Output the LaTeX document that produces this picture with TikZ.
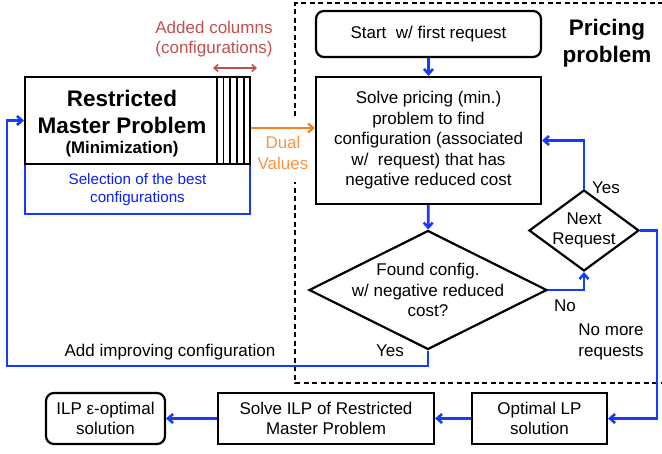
\documentclass[tikz,border=0pt]{standalone}
\usepackage{fontspec}
\setmainfont{Liberation Sans}
\usetikzlibrary{arrows.meta,shapes.geometric}
\definecolor{flowblue}{RGB}{20,60,255}
\definecolor{txtblue}{RGB}{10,30,255}
\definecolor{dualorange}{RGB}{247,150,70}
\definecolor{arrorange}{RGB}{245,130,32}
\definecolor{colred}{RGB}{192,80,77}
\tikzset{
  box/.style={draw=black, line width=2.2pt, fill=white, inner sep=0pt, align=center,
    font=\fontsize{17}{20.5}\selectfont},
  rbox/.style={box, rounded corners=8pt},
  dia/.style={draw=black, line width=2.2pt, shape=diamond, inner sep=0pt, fill=white},
  txt/.style={inner sep=0pt, align=center, font=\fontsize{17}{20.5}\selectfont},
  flow/.style={draw=flowblue, line width=2.6pt, -{Straight Barb[length=5pt,width=9pt]}},
}
\begin{document}
\begin{tikzpicture}[x=1pt,y=-1pt]
\useasboundingbox (0,0) rectangle (662,453);
% dashed pricing region
\draw[line width=1.4pt, dash pattern=on 5pt off 3.5pt] (663,3) -- (295,3) -- (295,383) -- (663,383);
\node[txt, font=\bfseries\fontsize{22.5}{27}\selectfont] (ptitle) at (607,43.5) {Pricing\\problem};
% RMP
\node[draw=flowblue, line width=2.4pt, minimum width=225pt, minimum height=50pt, inner sep=0pt] (sel) at (137.5,189) {};
\node[txt, text=txtblue, font=\fontsize{15.2}{18.5}\selectfont] (seltxt) at (137.5,189.5) {Selection of the best\\configurations};
\node[draw=black, line width=2.2pt, fill=white, minimum width=225pt, minimum height=87pt, inner sep=0pt] (rmp) at (137.5,120.5) {};
\foreach \xx in {217,223.5,230.3,237,243.7}{
  \draw[line width=1.8pt] (\xx,77) -- (\xx,164);
}
\node[txt, font=\bfseries\fontsize{22.5}{27}\selectfont] (rmptxt) at (122,111.5) {Restricted\\Master Problem};
\node[txt, font=\bfseries\fontsize{16.8}{20}\selectfont] (mintxt) at (122,149) {(Minimization)};
% added columns
\node[txt, text=colred] (addcol) at (214,39) {Added columns\\(configurations)};
\coordinate (ac1) at (213,68);
\coordinate (ac2) at (257,68);
\draw[colred, line width=1.6pt, {Straight Barb[length=4pt,width=7pt]}-{Straight Barb[length=4pt,width=7pt]}] (ac1) -- (ac2);
% pricing boxes
\node[rbox, minimum width=225pt, minimum height=46pt] (start) at (428.5,34) {Start\ \ w/ first request};
\node[box, minimum width=225pt, minimum height=127pt] (solve) at (428.5,140.5) {Solve pricing (min.)\\problem to find\\configuration (associated\\w/\ \ request) that has\\negative reduced cost};
\node[dia, minimum width=238pt, minimum height=119pt, label={[txt]center:Found config.\\w/ negative reduced\\cost?}] (found) at (428,290) {};
\node[dia, minimum width=110pt, minimum height=81pt, label={[txt]center:Next\\Request}] (next) at (584,230.5) {};
% bottom boxes
\node[box, minimum width=135pt, minimum height=51pt] (lp) at (539.5,418.5) {Optimal LP\\solution};
\node[box, minimum width=216pt, minimum height=51pt] (ilp) at (326,418.5) {Solve ILP of Restricted\\Master Problem};
\node[rbox, minimum width=119pt, minimum height=51pt] (eps) at (105.5,418.5) {ILP ε-optimal\\solution};
% dual values
\fill[white] (289,116) rectangle (301,182);
\node[txt, text=dualorange] (dual) at (283,153) {Dual\\Values};
\draw[arrorange, line width=2.4pt, -{Straight Barb[length=5pt,width=9pt]}] ([yshift=-7.5pt]rmp.east) -- ([yshift=-7.5pt]rmp.east -| solve.west);
% flows
\draw[flow] (start) -- (solve);
\draw[flow] (solve) -- (found);
\draw[flow] (found.east) -| (next.south);
\node[txt] (nolbl) at (565,306) {No};
\draw[flow] (next.north) |- (solve.east);
\node[txt] (yeslbl1) at (606,188) {Yes};
\coordinate (c1) at (7,366);
\draw[flow] (found.south) |- (c1) |- (rmp.west);
\node[txt] (yeslbl2) at (390,351) {Yes};
\node[txt] (addimp) at (170,352) {Add improving configuration};
\coordinate (c2) at (657,230.5);
\draw[flow] (next.east) -- (c2) |- (lp.east);
\node[txt] (nomore) at (611,342) {No more\\requests};
\draw[flow] (lp) -- (ilp);
\draw[flow] (ilp) -- (eps);
\end{tikzpicture}
\end{document}
